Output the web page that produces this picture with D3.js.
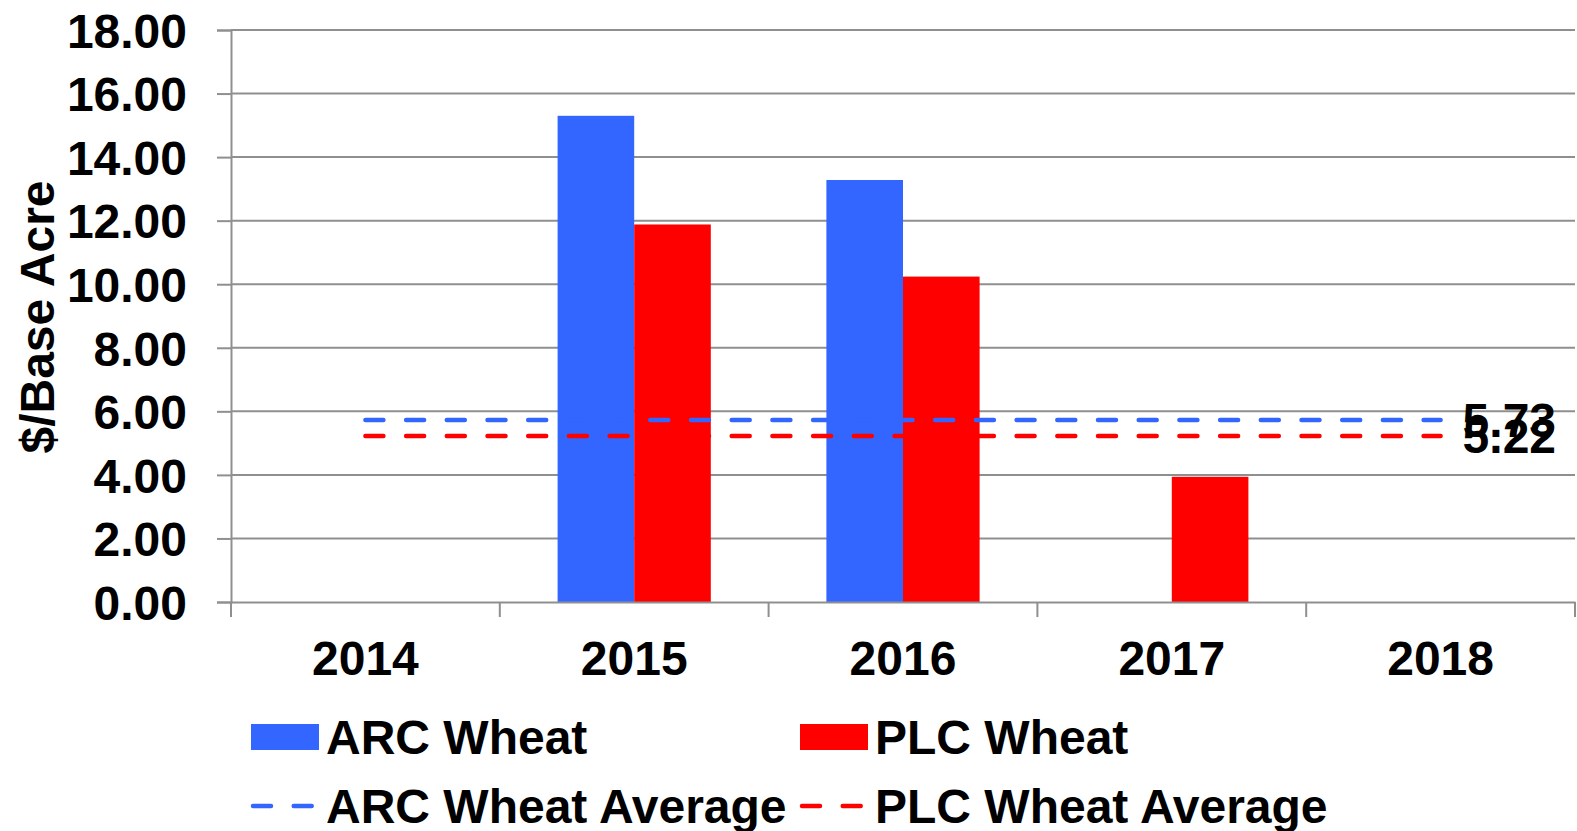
<!DOCTYPE html>
<html>
<head>
<meta charset="utf-8">
<script src="https://cdn.jsdelivr.net/npm/d3@7/dist/d3.min.js"></script>
<style>
  html, body { margin: 0; padding: 0; background: #fff; }
  svg { display: block; font-family: "Liberation Sans", Arial, sans-serif; font-weight: bold; }
</style>
</head>
<body>
<div id="chart"></div>
<script>
// chart data
const years = ['2014', '2015', '2016', '2017', '2018'];
const arcWheat = [0, 15.30, 13.28, 0, 0];
const plcWheat = [0, 11.88, 10.24, 3.94, 0];
const arcAverage = 5.73;
const plcAverage = 5.22;
const yTicks = [0, 2, 4, 6, 8, 10, 12, 14, 16, 18];

const width = 1577;
const height = 831;
const margin = { top: 30, right: 2, bottom: 229, left: 231 };
const fontSize = 48;

const blue = '#3366ff';
const red = '#ff0000';
const gridColor = '#8f8f8f';

const svg = d3.select('#chart')
  .append('svg')
  .attr('width', width)
  .attr('height', height);

const x = d3.scaleBand()
  .domain(years)
  .range([margin.left, width - margin.right])
  .padding(0);

const groupWidth = x.bandwidth() * 0.57;
const x1 = d3.scaleBand()
  .domain(['arc', 'plc'])
  .range([(x.bandwidth() - groupWidth) / 2, (x.bandwidth() + groupWidth) / 2]);

const y = d3.scaleLinear()
  .domain([0, 18])
  .range([height - margin.bottom, margin.top]);

// gridlines
svg.append('g')
  .selectAll('line')
  .data(yTicks.filter(d => d > 0))
  .enter()
  .append('line')
  .attr('x1', margin.left)
  .attr('x2', width - margin.right)
  .attr('y1', d => y(d))
  .attr('y2', d => y(d))
  .attr('stroke', gridColor)
  .attr('stroke-width', 2);

// bars
const rows = years.map((yr, i) => ({ year: yr, arc: arcWheat[i], plc: plcWheat[i] }));

const groups = svg.append('g')
  .selectAll('g')
  .data(rows)
  .enter()
  .append('g')
  .attr('transform', d => `translate(${x(d.year)},0)`);

groups.selectAll('rect')
  .data(d => [{ key: 'arc', value: d.arc }, { key: 'plc', value: d.plc }])
  .enter()
  .append('rect')
  .attr('x', d => x1(d.key))
  .attr('y', d => y(d.value))
  .attr('width', x1.bandwidth())
  .attr('height', d => y(0) - y(d.value))
  .attr('fill', d => d.key === 'arc' ? blue : red);

// y axis
const yAxis = svg.append('g')
  .attr('transform', `translate(${margin.left},0)`)
  .call(d3.axisLeft(y).tickValues(yTicks).tickFormat(d3.format('.2f')).tickSize(14).tickPadding(30));

// x axis
const xAxis = svg.append('g')
  .attr('transform', `translate(0,${y(0)})`)
  .call(d3.axisBottom(x).tickSize(0).tickPadding(39));

// x ticks at category boundaries
xAxis.selectAll('.boundary')
  .data(years.concat(['end']))
  .enter()
  .append('line')
  .attr('class', 'boundary')
  .attr('x1', d => d === 'end' ? x.range()[1] : x(d))
  .attr('x2', d => d === 'end' ? x.range()[1] : x(d))
  .attr('y1', 0)
  .attr('y2', 15)
  .attr('stroke', gridColor)
  .attr('stroke-width', 2);

[yAxis, xAxis].forEach(ax => {
  ax.select('.domain').attr('stroke', gridColor).attr('stroke-width', 2);
  ax.selectAll('.tick line').attr('stroke', gridColor).attr('stroke-width', 2);
  ax.selectAll('text')
    .attr('fill', '#000')
    .style('font-size', fontSize + 'px')
    .style('font-weight', 'bold')
    .style('font-family', '"Liberation Sans", Arial, sans-serif');
});
yAxis.selectAll('.tick text').attr('dy', '0.36em');
xAxis.selectAll('.tick text').attr('dy', '0.71em');

// average lines
const averages = [
  { key: 'arc', value: arcAverage, color: blue, label: '5.73' },
  { key: 'plc', value: plcAverage, color: red, label: '5.22' }
];
const xStart = x(years[0]) + x.bandwidth() / 2;
const xEnd = x(years[years.length - 1]) + x.bandwidth() / 2;

const avg = svg.append('g');
avg.selectAll('line')
  .data(averages)
  .enter()
  .append('line')
  .attr('x1', xStart)
  .attr('x2', xEnd)
  .attr('y1', d => y(d.value))
  .attr('y2', d => y(d.value))
  .attr('stroke', d => d.color)
  .attr('stroke-width', 4.5)
  .attr('stroke-linecap', 'round')
  .attr('stroke-dasharray', '18 22.7');

avg.selectAll('text')
  .data(averages)
  .enter()
  .append('text')
  .attr('x', xEnd + 22)
  .attr('y', d => y(d.value))
  .attr('dy', '0.36em')
  .attr('font-size', fontSize)
  .attr('fill', '#000')
  .text(d => d.label);

// y title
svg.append('text')
  .attr('transform', `translate(54,317) rotate(-90)`)
  .attr('text-anchor', 'middle')
  .attr('font-size', fontSize)
  .attr('fill', '#000')
  .text('$/Base Acre');

// legend
const legendItems = [
  { label: 'ARC Wheat', color: blue, type: 'rect', col: 0, row: 0 },
  { label: 'PLC Wheat', color: red, type: 'rect', col: 1, row: 0 },
  { label: 'ARC Wheat Average', color: blue, type: 'line', col: 0, row: 1 },
  { label: 'PLC Wheat Average', color: red, type: 'line', col: 1, row: 1 }
];
const legendX = [251, 800];
const legendY = [737, 806];

const legend = svg.append('g')
  .selectAll('g')
  .data(legendItems)
  .enter()
  .append('g')
  .attr('transform', d => `translate(${legendX[d.col]},${legendY[d.row]})`);

legend.filter(d => d.type === 'rect')
  .append('rect')
  .attr('x', 0)
  .attr('y', -13)
  .attr('width', 68)
  .attr('height', 26)
  .attr('fill', d => d.color);

legend.filter(d => d.type === 'line')
  .append('line')
  .attr('x1', 2)
  .attr('x2', 66)
  .attr('y1', 0)
  .attr('y2', 0)
  .attr('stroke', d => d.color)
  .attr('stroke-width', 4.5)
  .attr('stroke-linecap', 'round')
  .attr('stroke-dasharray', '18 22.7');

legend.append('text')
  .attr('x', 75)
  .attr('y', 0)
  .attr('dy', '0.36em')
  .attr('font-size', fontSize)
  .attr('fill', '#000')
  .text(d => d.label);
</script>
</body>
</html>
